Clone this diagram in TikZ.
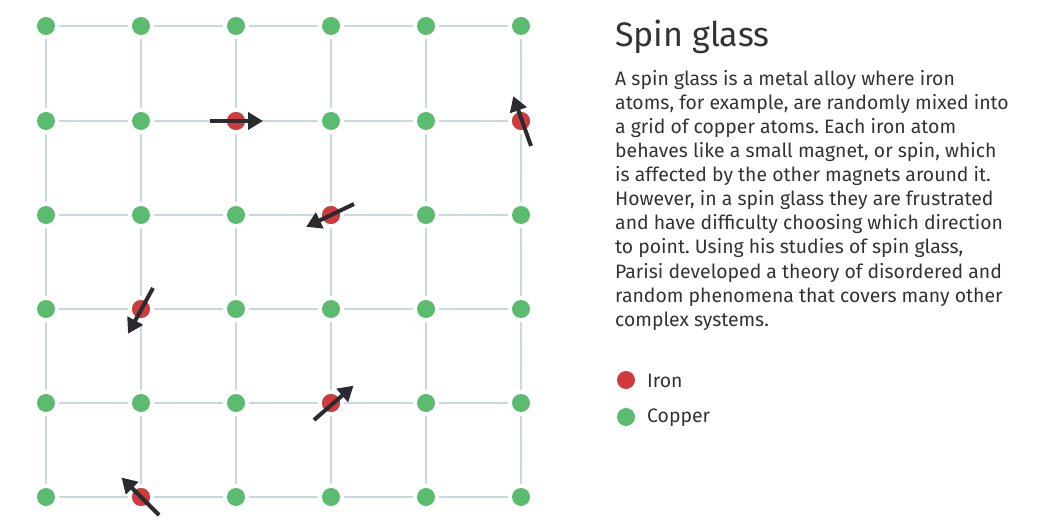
\documentclass[tikz,border=0pt]{standalone}
\usepackage{fontspec}
\setmainfont{Fira Sans}
\usetikzlibrary{arrows.meta}
\frenchspacing
\definecolor{gridc}{HTML}{C6DAE1}
\definecolor{cu}{HTML}{5BBB6E}
\definecolor{fe}{HTML}{D0393E}
\definecolor{arr}{HTML}{2A2B2E}
\definecolor{txt}{HTML}{333333}
\tikzset{
  atom/.style={circle, inner sep=0pt, minimum size=18pt, outer sep=4pt},
  copper/.style={atom, fill=cu},
  iron/.style={atom, fill=fe},
  bond/.style={draw=gridc, line width=2pt},
  spin/.style={draw=arr, line width=4pt, -{Triangle[length=15pt,width=17pt]}, shorten >=-2pt},
  body/.style={anchor=base west, inner sep=0pt, font=\fontsize{19.4}{24}\selectfont, text=txt},
  title/.style={anchor=base west, inner sep=0pt, font=\fontsize{34}{36}\selectfont, text=txt},
}
\begin{document}
\begin{tikzpicture}[x=1pt,y=-1pt]
\useasboundingbox (0,0) rectangle (1038,521);
% atoms
\foreach \i/\x in {1/46,2/141,3/236,4/331,5/426,6/521}{
  \foreach \j/\y in {1/26,2/121,3/215,4/309,5/403,6/497}{
    \node[copper] (n\i\j) at (\x,\y) {};
  }
}
\foreach \n in {n32,n62,n43,n24,n45,n26}{
  \node[iron] at (\n.center) {};
}
% bonds
\foreach \i [count=\k from 2] in {1,...,5}{
  \foreach \j in {1,...,6}{
    \draw[bond] (n\i\j) -- (n\k\j);
    \draw[bond] (n\j\i) -- (n\j\k);
  }
}
% spins
\draw[spin] ([shift={(-26,0)}]n32.center) -- ([shift={(25,0)}]n32.center);
\draw[spin] ([shift={(10,25)}]n62.center) -- ([shift={(-7,-23)}]n62.center);
\draw[spin] ([shift={(23,-11)}]n43.center) -- ([shift={(-23,11)}]n43.center);
\draw[spin] ([shift={(12,-21)}]n24.center) -- ([shift={(-12,23)}]n24.center);
\draw[spin] ([shift={(-17,17)}]n45.center) -- ([shift={(21,-16)}]n45.center);
\draw[spin] ([shift={(18,18)}]n26.center) -- ([shift={(-18,-18)}]n26.center);
% text
\node[title] (t) at (615,47) {Spin glass};
\node[body] (l1) at (615,86) {A spin glass is a metal alloy where iron};
\node[body] (l2) at (615,110) {atoms, for example, are randomly mixed into};
\node[body] (l3) at (615,134) {a grid of copper atoms. Each iron atom};
\node[body] (l4) at (615,158) {behaves like a small magnet, or spin, which};
\node[body] (l5) at (615,182) {is affected by the other magnets around it.};
\node[body] (l6) at (615,206) {However, in a spin glass they are frustrated};
\node[body] (l7) at (615,230) {and have difficulty choosing which direction};
\node[body] (l8) at (615,254) {to point. Using his studies of spin glass,};
\node[body] (l9) at (615,278) {Parisi developed a theory of disordered and};
\node[body] (l10) at (615,302) {random phenomena that covers many other};
\node[body] (l11) at (615,326) {complex systems.};
% legend
\node[iron] (li) at (626,380) {};
\node[body, anchor=west] (lit) at (647,381) {Iron};
\node[copper] (lc) at (626,417) {};
\node[body, anchor=west] (lct) at (647,418) {Copper};
\end{tikzpicture}
\end{document}
